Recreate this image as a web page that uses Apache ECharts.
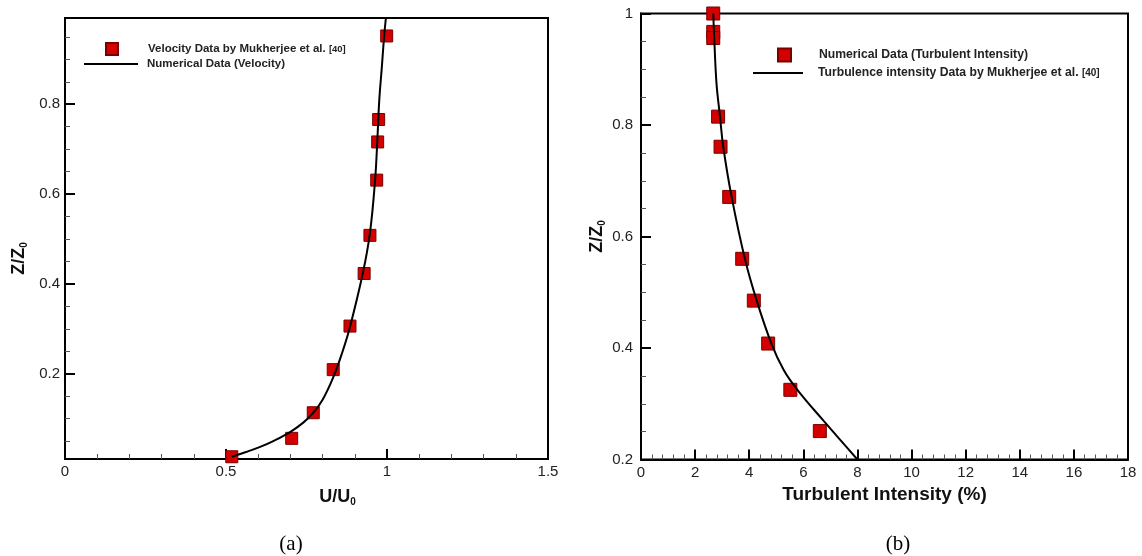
<!DOCTYPE html>
<html>
<head>
<meta charset="utf-8">
<script src="https://cdn.jsdelivr.net/npm/echarts@6/dist/echarts.min.js"></script>
<style>
html,body{margin:0;padding:0;background:#fff;}
#c{width:1142px;height:556px;}
</style>
</head>
<body>
<div id="c"></div>
<script>
// ---- Panel (a): velocity profile ----
var velDataU = [0.999, 0.974, 0.971, 0.968, 0.947, 0.929, 0.885, 0.833, 0.771, 0.704, 0.518];
var velDataZ = [0.952, 0.766, 0.716, 0.631, 0.508, 0.423, 0.306, 0.209, 0.113, 0.056, 0.015];
var velNumU = [0.518, 0.56, 0.606, 0.65, 0.699, 0.74, 0.770, 0.80, 0.832, 0.86, 0.885, 0.925, 0.947, 0.963, 0.970, 0.976, 0.984, 0.991, 0.997];
var velNumZ = [0.015, 0.025, 0.037, 0.051, 0.070, 0.091, 0.112, 0.142, 0.190, 0.245, 0.304, 0.424, 0.513, 0.631, 0.720, 0.809, 0.883, 0.950, 0.995];
var aYTicks = [0.2, 0.4, 0.6, 0.8];
var aYMinorTicks = [0.05, 0.1, 0.15, 0.25, 0.3, 0.35, 0.45, 0.5, 0.55, 0.65, 0.7, 0.75, 0.85, 0.9, 0.95];

// ---- Panel (b): turbulent intensity profile ----
var tiNumX = [2.67, 2.67, 2.67, 2.85, 2.94, 3.26, 3.74, 4.17, 4.70, 5.52, 6.61];
var tiNumZ = [1.0, 0.967, 0.956, 0.815, 0.761, 0.671, 0.560, 0.485, 0.408, 0.325, 0.251];
var tiRefX = [2.67, 2.70, 2.79, 2.92, 3.04, 3.35, 3.84, 4.27, 4.82, 5.28, 5.78, 6.72, 8.0];
var tiRefZ = [1.0, 0.964, 0.875, 0.815, 0.761, 0.671, 0.560, 0.486, 0.408, 0.360, 0.325, 0.271, 0.2];

var nameA1 = 'Velocity Data by Mukherjee et al. [40]';
var nameA2 = 'Numerical Data (Velocity)';
var nameB1 = 'Numerical Data (Turbulent Intensity)';
var nameB2 = 'Turbulence intensity Data by Mukherjee et al. [40]';

function zip(a, b) { return a.map(function (v, i) { return [v, b[i]]; }); }

var FONT = 'Liberation Sans, Arial, sans-serif';
var tickLabel = { color: '#222', fontSize: 15, fontFamily: FONT };
var axisLine = { show: true, lineStyle: { color: '#000', width: 2 } };
var majorTick = { show: true, inside: true, length: 10, lineStyle: { color: '#000', width: 2 } };
var minorTick = { show: true, length: 5, lineStyle: { color: '#555', width: 1 } };
var subRich = {
  m: { fontSize: 18, fontWeight: 'bold', fontFamily: FONT, color: '#111' },
  s: { fontSize: 10, fontWeight: 'bold', fontFamily: FONT, color: '#111', padding: [10, 0, 0, 0] }
};
function makeRich(sz) {
  return {
    a: { fontSize: sz, fontWeight: 'bold', fontFamily: FONT, color: '#222' },
    b: { fontSize: sz * 0.82, fontWeight: 'bold', fontFamily: FONT, color: '#222' }
  };
}
function legendFmt(name) {
  var i = name.indexOf('[40]');
  if (i >= 0) return '{a|' + name.slice(0, i) + '}{b|[40]}';
  return '{a|' + name + '}';
}
var sqStyle = { color: '#d40000', borderColor: '#7a0000', borderWidth: 1, opacity: 1 };

var option = {
  animation: false,
  backgroundColor: '#fff',
  title: [
    { text: '(a)', left: 286, top: 529, textAlign: 'center',
      textStyle: { fontFamily: 'Liberation Serif, Times New Roman, serif', fontSize: 21, fontWeight: 'normal', color: '#000' } },
    { text: '(b)', left: 893, top: 529, textAlign: 'center',
      textStyle: { fontFamily: 'Liberation Serif, Times New Roman, serif', fontSize: 21, fontWeight: 'normal', color: '#000' } }
  ],
  legend: [
    { data: [nameA1], left: 105, top: 42, orient: 'vertical', padding: 0, itemWidth: 12, itemHeight: 12,
      formatter: legendFmt, textStyle: { padding: [0, 0, 0, 25], rich: makeRich(11.5) }, selectedMode: false },
    { data: [{ name: nameA2, icon: 'rect' }], left: 84, top: 58, orient: 'vertical', padding: 0, itemWidth: 54, itemHeight: 2,
      formatter: legendFmt, textStyle: { padding: [0, 0, 0, 4], rich: makeRich(11.5) }, selectedMode: false },
    { data: [nameB1], left: 777, top: 47.5, orient: 'vertical', padding: 0, itemWidth: 13, itemHeight: 13,
      formatter: legendFmt, textStyle: { padding: [0, 0, 0, 23], rich: makeRich(12.2) }, selectedMode: false },
    { data: [{ name: nameB2, icon: 'rect' }], left: 753, top: 67, orient: 'vertical', padding: 0, itemWidth: 50, itemHeight: 2,
      formatter: legendFmt, textStyle: { padding: [0, 0, 0, 10], rich: makeRich(12.2) }, selectedMode: false }
  ],
  grid: [
    { left: 65, top: 18, right: 594, bottom: 97, show: true, borderColor: '#000', borderWidth: 2, backgroundColor: 'transparent' },
    { left: 641, top: 13.5, right: 14, bottom: 96.5, show: true, borderColor: '#000', borderWidth: 2, backgroundColor: 'transparent' }
  ],
  xAxis: [
    { type: 'value', gridIndex: 0, min: 0, max: 1.5, interval: 0.5,
      axisLine: axisLine, axisTick: majorTick, minorTick: Object.assign({ splitNumber: 5 }, minorTick),
      splitLine: { show: false }, axisLabel: Object.assign({ margin: 5 }, tickLabel),
      name: '{m|U/U}{s|0}', nameLocation: 'middle', nameGap: 28,
      nameTextStyle: { rich: subRich, padding: [0, 0, 0, 62] } },
    { type: 'value', gridIndex: 1, min: 0, max: 18, interval: 2,
      axisLine: axisLine, axisTick: majorTick, minorTick: Object.assign({ splitNumber: 5 }, minorTick),
      splitLine: { show: false }, axisLabel: Object.assign({ margin: 6 }, tickLabel),
      name: 'Turbulent Intensity (%)', nameLocation: 'middle', nameGap: 25,
      nameTextStyle: { fontSize: 19, fontWeight: 'bold', fontFamily: FONT, color: '#111' } }
  ],
  yAxis: [
    { type: 'value', gridIndex: 0, min: 0.01, max: 0.992, position: 'left',
      axisLine: axisLine,
      axisTick: Object.assign({ customValues: aYTicks }, majorTick),
      axisLabel: Object.assign({ margin: 5, customValues: aYTicks }, tickLabel),
      splitLine: { show: false },
      name: '{m|Z/Z}{s|0}', nameLocation: 'middle', nameGap: 36,
      nameTextStyle: { rich: subRich, padding: [0, 40, 0, 0] } },
    { type: 'value', gridIndex: 0, min: 0.01, max: 0.992, position: 'left', offset: 0,
      axisLine: { show: false },
      axisTick: { show: true, inside: true, length: 5, customValues: aYMinorTicks, lineStyle: { color: '#555', width: 1 } },
      axisLabel: { show: false }, splitLine: { show: false } },
    { type: 'value', gridIndex: 1, min: 0.2, max: 1, interval: 0.2,
      axisLine: axisLine, axisTick: majorTick, minorTick: Object.assign({ splitNumber: 4 }, minorTick),
      splitLine: { show: false }, axisLabel: Object.assign({ margin: 8 }, tickLabel),
      name: '{m|Z/Z}{s|0}', nameLocation: 'middle', nameGap: 34, nameTextStyle: { rich: subRich } }
  ],
  series: [
    { name: nameA1, type: 'scatter', xAxisIndex: 0, yAxisIndex: 0, data: zip(velDataU, velDataZ),
      symbol: 'rect', symbolSize: 12, itemStyle: sqStyle, clip: false, z: 2 },
    { name: nameA2, type: 'line', xAxisIndex: 0, yAxisIndex: 0, data: zip(velNumU, velNumZ),
      symbol: 'none', smooth: 0.4, lineStyle: { color: '#000', width: 2 }, itemStyle: { color: '#000' }, z: 3 },
    { name: nameB1, type: 'scatter', xAxisIndex: 1, yAxisIndex: 2, data: zip(tiNumX, tiNumZ),
      symbol: 'rect', symbolSize: 13, itemStyle: sqStyle, clip: false, z: 2 },
    { name: nameB2, type: 'line', xAxisIndex: 1, yAxisIndex: 2, data: zip(tiRefX, tiRefZ),
      symbol: 'none', smooth: 0.4, lineStyle: { color: '#000', width: 2 }, itemStyle: { color: '#000' }, z: 3 }
  ]
};
var chart = echarts.init(document.getElementById('c'), null, { renderer: 'canvas' });
chart.setOption(option);
</script>
</body>
</html>
